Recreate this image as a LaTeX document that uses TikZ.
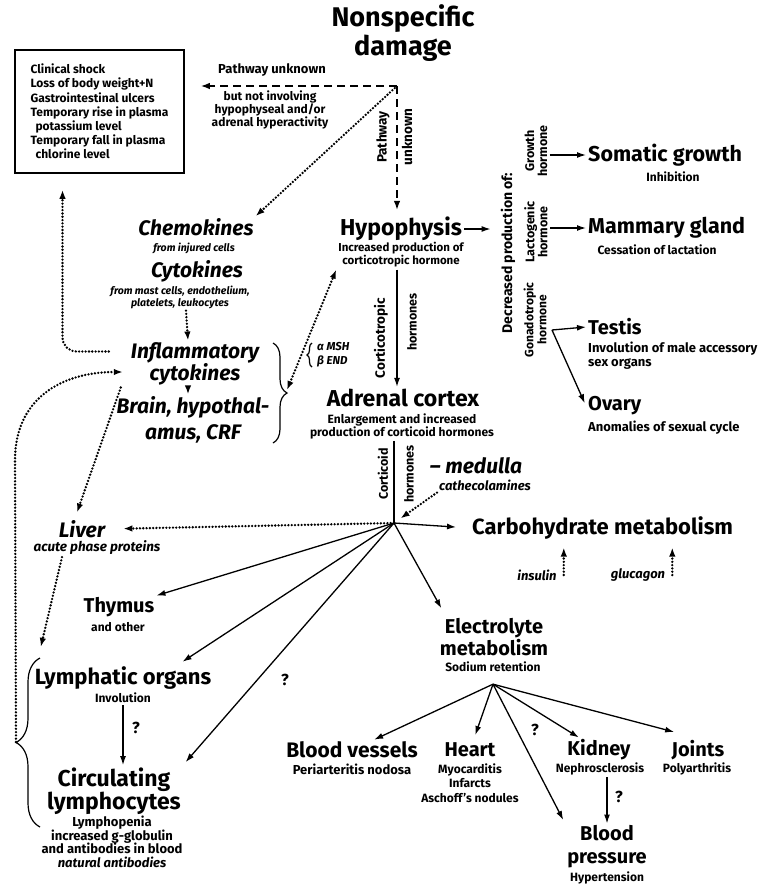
\documentclass[tikz,border=0pt]{standalone}
\usepackage{fontspec}
\setmainfont{Fira Sans}
\usetikzlibrary{arrows.meta,decorations.pathreplacing}

\tikzset{
  every node/.style={inner sep=2pt},
  ttl/.style={font=\bfseries\fontsize{27}{29}\selectfont,align=center},
  hd/.style={font=\bfseries\fontsize{23}{25}\selectfont,align=center},
  hdb/.style={font=\bfseries\fontsize{21.5}{23}\selectfont,align=center},
  md/.style={font=\bfseries\fontsize{20}{22}\selectfont,align=center},
  ihd/.style={font=\bfseries\itshape\fontsize{21}{22}\selectfont,align=center},
  sm/.style={font=\bfseries\fontsize{12}{13}\selectfont,align=center},
  ism/.style={font=\bfseries\itshape\fontsize{10.5}{12}\selectfont,align=center},
  ilab/.style={font=\bfseries\itshape\fontsize{13}{14}\selectfont,align=center},
  vl/.style={font=\bfseries\fontsize{12.5}{13}\selectfont,rotate=90,align=center},
  qm/.style={font=\bfseries\fontsize{16}{18}\selectfont},
  sol/.style={line width=1.3pt,-{Latex[length=9pt,width=6pt]}},
  dotl/.style={line width=2.6pt,line cap=round,dash pattern=on 0pt off 3.3pt},
  dotarr/.style={dotl,-{Latex[length=9pt,width=6.5pt]}},
  dshd/.style={line width=1.6pt,dash pattern=on 8pt off 5pt,-{Latex[length=9pt,width=6.5pt]}},
  brc/.style={line width=1.2pt,decorate,decoration={brace,amplitude=#1}},
}

\begin{document}
\begin{tikzpicture}[x=1pt,y=-1pt]
  \useasboundingbox (0,0) rectangle (771,886);

  % damage and the unknown pathways
  \node[ttl] (damage) at (403,33) {Nonspecific\\damage};
  \node[draw,line width=1.5pt,minimum width=169pt,minimum height=123pt,
    inner sep=0pt,align=left,
    font=\bfseries\fontsize{12}{14.2}\selectfont] (signs) at (99.5,111.5)
    {Clinical shock\\Loss of body weight+N\\Gastrointestinal ulcers\\
     Temporary rise in plasma\\\hspace*{5pt}potassium level\\
     Temporary fall in plasma\\\hspace*{5pt}chlorine level};
  \coordinate (fork) at (397,86);
  \node[sm,font=\bfseries\fontsize{13}{13}\selectfont] (pw-lab) at (272,70) {Pathway unknown};
  \node[sm,font=\bfseries\fontsize{12}{12.2}\selectfont] (pw-note) at (270,110)
    {but not involving\\hypophyseal and/or\\adrenal hyperactivity};
  \node[vl,font=\bfseries\fontsize{13.5}{13}\selectfont] (pw-v1) at (383,137) {Pathway};
  \node[vl,font=\bfseries\fontsize{13.5}{13}\selectfont] (pw-v2) at (407,137) {unknown};

  % hypophysis and adrenal cortex
  \node[hd] (hypo) at (401,229) {Hypophysis};
  \node[sm,font=\bfseries\fontsize{11.5}{13}\selectfont] (hypo-sub) at (401,255)
    {Increased production of\\corticotropic hormone};
  \node[vl,font=\bfseries\fontsize{13.5}{13}\selectfont] (ct-v1) at (381,338) {Corticotropic};
  \node[vl] (ct-v2) at (412,322) {hormones};
  \node[hd] (adrenal) at (403,398) {Adrenal cortex};
  \node[sm] (adrenal-sub) at (402,426) {Enlargement and increased\\production of corticoid hormones};
  \node[vl] (cc-v1) at (383,474) {Corticoid};
  \node[vl] (cc-v2) at (409,474) {hormones};
  \coordinate (hub) at (394,523);
  \node[ihd] (medulla) at (476,466) {– medulla};
  \node[ilab] (cathec) at (485,485) {cathecolamines};

  % cytokine side
  \node[ihd] (chemo) at (196,227) {Chemokines};
  \node[ism] (chemo-sub) at (194,248) {from injured cells};
  \node[ihd] (cyto) at (197,271) {Cytokines};
  \node[ism] (cyto-sub) at (180,297) {from mast cells, endothelium,\\platelets, leukocytes};
  \node[ihd] (infl) at (195,364) {Inflammatory\\cytokines};
  \node[ihd,font=\bfseries\itshape\fontsize{21}{26}\selectfont] (brain) at (193,420)
    {Brain, hypothal-\\amus, CRF};
  \draw[brc=14pt] (273,343) -- (273,443);
  \coordinate (brace-r) at (287,390);
  \draw[brc=5pt] (312,367) -- (312,343);
  \node[font=\bfseries\itshape\fontsize{11.5}{14}\selectfont,align=left,anchor=west]
    (msh) at (315,355) {α MSH\\β END};

  % hormones of the hypophysis
  \node[vl,font=\bfseries\fontsize{14}{13}\selectfont] (decr) at (508,253) {Decreased production of:};
  \node[vl] (growth) at (536,151) {Growth\\hormone};
  \node[vl] (lacto) at (536,232) {Lactogenic\\hormone};
  \node[vl,font=\bfseries\fontsize{12}{13}\selectfont] (gona) at (535,320) {Gonadotropic\\hormone};
  \node[hdb,anchor=west] (somatic) at (586,155) {Somatic growth};
  \node[sm] (somatic-sub) at (673,177) {Inhibition};
  \node[hdb,anchor=west] (mammary) at (586,228) {Mammary gland};
  \node[sm] (mammary-sub) at (657,250) {Cessation of lactation};
  \node[md,anchor=west] (testis) at (586,327) {Testis};
  \node[sm,font=\bfseries\fontsize{13}{14}\selectfont,align=left,anchor=north west]
    (testis-sub) at (586,340) {Involution of male accessory\\sex organs};
  \node[md,anchor=west] (ovary) at (586,406) {Ovary};
  \node[sm,font=\bfseries\fontsize{13}{14}\selectfont,anchor=west] (ovary-sub) at (586,428)
    {Anomalies of sexual cycle};
  \coordinate (gona-c) at (552,330);

  % targets of the corticoids
  \node[ihd] (liver) at (82,529) {Liver};
  \node[ilab,font=\bfseries\itshape\fontsize{13.5}{14}\selectfont] (liver-sub) at (97,548)
    {acute phase proteins};
  \node[hdb,font=\bfseries\fontsize{22}{23}\selectfont,anchor=west] (carb) at (470,528)
    {Carbohydrate metabolism};
  \node[ilab] (insulin) at (537,575) {insulin};
  \node[ilab] (glucagon) at (638,575) {glucagon};
  \node[md] (thymus) at (119,607) {Thymus};
  \node[sm] (thymus-sub) at (118,627) {and other};
  \node[md,font=\bfseries\fontsize{22}{22}\selectfont] (lymph) at (123,678) {Lymphatic organs};
  \node[sm] (lymph-sub) at (123,698) {Involution};
  \node[md,font=\bfseries\fontsize{23}{22}\selectfont] (circ) at (114,791) {Circulating\\lymphocytes};
  \node[sm,font=\bfseries\fontsize{13}{13.5}\selectfont] (circ-sub) at (112,842)
    {Lymphopenia\\increased g-globulin\\and antibodies in blood\\\textit{natural antibodies}};
  \draw[brc=24pt] (40,827) -- (40,658);
  \coordinate (brace-l) at (16,742);
  \node[qm] (q-lymph) at (136,728) {?};
  \node[qm] (q-circ) at (285,680) {?};

  % electrolytes
  \node[md,font=\bfseries\fontsize{20}{20}\selectfont] (electro) at (494,637) {Electrolyte\\metabolism};
  \node[sm] (electro-sub) at (493,667) {Sodium retention};
  \coordinate (efan) at ([yshift=-10pt]electro-sub.south);
  \node[md,font=\bfseries\fontsize{21}{22}\selectfont] (vessels) at (352,750) {Blood vessels};
  \node[sm,font=\bfseries\fontsize{13}{13}\selectfont] (vessels-sub) at (352,769) {Periarteritis nodosa};
  \node[md] (heart) at (470,750) {Heart};
  \node[sm,font=\bfseries\fontsize{12}{14.5}\selectfont] (heart-sub) at (470,783)
    {Myocarditis\\Infarcts\\Aschoff's nodules};
  \node[md] (kidney) at (599,750) {Kidney};
  \node[sm] (kidney-sub) at (600,769) {Nephrosclerosis};
  \node[md] (joints) at (698,750) {Joints};
  \node[sm] (joints-sub) at (697,769) {Polyarthritis};
  \node[md,font=\bfseries\fontsize{20}{23}\selectfont] (bp) at (607,847) {Blood\\pressure};
  \node[sm] (bp-sub) at (607,878) {Hypertension};
  \node[qm] (q-bp) at (535,730) {?};
  \node[qm] (q-kid) at (619,797) {?};

  % connectors
  \draw[dshd,shorten >=16pt] (fork) -- (signs.east |- fork);
  \draw[dshd,shorten >=5pt] (fork) -- (fork |- hypo.north);
  \draw[dotarr,shorten <=3pt] (fork) -- (chemo.north east);
  \draw[dotarr] ([xshift=6pt]cyto-sub.south) -- ([xshift=-7pt]infl.north);
  \draw[dotarr] ([xshift=-7pt]infl.south) -- ([xshift=-5pt]brain.north);
  \draw[dotl,{Latex[length=9pt,width=6.5pt]}-{Latex[length=9pt,width=6.5pt]}]
    (brace-r) -- (hypo-sub.south west);
  \draw[dotarr,rounded corners=14pt,shorten >=16pt]
    ([shift={(-20,11)}]infl.north west) -| ([xshift=-37pt]signs.south);
  \draw[dotarr] (brace-l) -- (15,460) .. controls (15,400) and (60,372) ..
    ([shift={(-6,8)}]infl.west);
  \draw[sol] (hypo-sub.south -| fork) -- (adrenal.north -| fork);
  \draw[line width=1.3pt] (adrenal-sub.south -| hub) -- (hub);
  \draw[dotarr,shorten >=8pt] (cathec.south west) -- (hub);
  \draw[sol,shorten >=8pt] (hypo.east) -- (hypo.east -| decr.north);
  \draw[sol] (growth.south |- somatic) -- (somatic.west);
  \draw[sol] (lacto.south |- mammary) -- (mammary.west);
  \draw[sol] (gona-c) -- (testis.west);
  \draw[sol,shorten >=3pt] (gona-c) -- (ovary.west);
  \draw[dotarr,shorten >=16pt] (hub) -- (liver.east);
  \draw[sol,shorten >=14pt] (hub) -- (carb.west);
  \draw[dotarr,shorten >=6pt] ([xshift=5pt]insulin.east) -- ([xshift=5pt]insulin.east |- carb.south);
  \draw[dotarr,shorten >=6pt] ([xshift=5pt]glucagon.east) -- ([xshift=5pt]glucagon.east |- carb.south);
  \draw[dotarr,shorten >=6pt] ([xshift=-8pt]infl.south west) -- ([xshift=-7pt]liver.north);
  \draw[dotarr,shorten >=18pt] ([xshift=-35pt]liver-sub.south) -- ([xshift=4pt]lymph.north west);
  \draw[sol] (hub) -- (thymus);
  \draw[sol,shorten >=5pt] (hub) -- ([xshift=-35pt]lymph.north east);
  \draw[sol,shorten >=4pt] (hub) -- (circ.north east);
  \draw[sol] (lymph-sub.south) -- (lymph-sub.south |- circ.north);
  \draw[sol,shorten >=9pt] (hub) -- ([xshift=8pt]electro.north west);
  \draw[sol] (efan) -- (vessels);
  \draw[sol,shorten >=6pt] (efan) -- (heart);
  \draw[sol,shorten >=4pt] (efan) -- (bp.north west);
  \draw[sol] (efan) -- (kidney);
  \draw[sol,shorten >=4pt] (efan) -- ([xshift=-20pt,yshift=5pt]joints.north);
  \draw[sol] (kidney-sub.south -| bp.north) -- (bp.north);
\end{tikzpicture}
\end{document}
